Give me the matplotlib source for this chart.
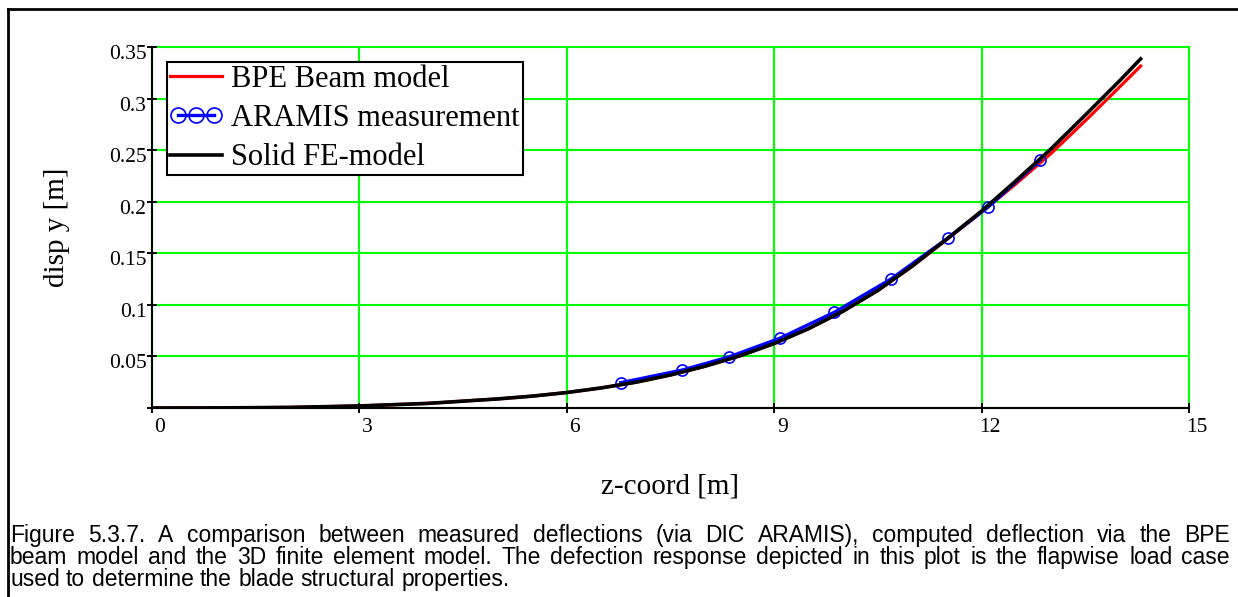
import matplotlib
matplotlib.use('Agg')
import matplotlib.pyplot as plt
from matplotlib.lines import Line2D
from matplotlib.legend_handler import HandlerLine2D
from matplotlib.transforms import ScaledTranslation

# data
z_model = [0, 1, 2, 3, 4, 5, 5.5, 6, 6.5, 7, 7.5, 8, 8.5, 9, 9.5, 10,
           10.5, 11, 11.5, 12, 12.5, 13, 13.5, 14, 14.3]
bpe_beam = [0, 0.0001, 0.0006, 0.0020, 0.0045, 0.0088, 0.0115, 0.0150, 0.0195,
            0.0250, 0.0320, 0.0405, 0.0505, 0.0625, 0.0770, 0.0940, 0.1140,
            0.1375, 0.1635, 0.1900, 0.2175, 0.2465, 0.2785, 0.3115, 0.3315]
solid_fe = [0, 0.0001, 0.0006, 0.0020, 0.0045, 0.0088, 0.0115, 0.0150, 0.0195,
            0.0250, 0.0320, 0.0405, 0.0505, 0.0625, 0.0770, 0.0940, 0.1140,
            0.1378, 0.1640, 0.1910, 0.2205, 0.2510, 0.2840, 0.3175, 0.3385]
z_aramis = [6.78, 7.67, 8.34, 9.08, 9.87, 10.69, 11.52, 12.09, 12.85]
aramis = [0.0245, 0.0368, 0.0494, 0.0676, 0.0928, 0.1251, 0.1651, 0.1946, 0.2405]

x_ticks = [0, 3, 6, 9, 12, 15]
x_tick_labels = ['0', '3', '6', '9', '12', '15']
y_ticks = [0, 0.05, 0.1, 0.15, 0.2, 0.25, 0.3, 0.35]
y_tick_labels = ['', '0.05', '0.1', '0.15', '0.2', '0.25', '0.3', '0.35']

caption_lines = [
    "Figure 5.3.7. A comparison between measured deflections (via DIC ARAMIS), computed deflection via the BPE",
    "beam model and the 3D finite element model. The defection response depicted in this plot is the flapwise load case",
    "used to determine the blade structural properties.",
]

W, H = 1238, 597
plt.rcParams['font.family'] = ['Liberation Serif', 'DejaVu Serif']


def fx(px):
    return px / W


def fy(py):
    return 1 - py / H


fig = plt.figure(figsize=(W / 100, H / 100), dpi=100)
ax = fig.add_axes([fx(152), fy(408), (1189 - 152) / W, (408 - 47) / H])

l_bpe, = ax.plot(z_model, bpe_beam, color='red', lw=2.3, label='BPE Beam model', zorder=3)
l_ar, = ax.plot(z_aramis, aramis, color='blue', lw=2.4, marker='o', ms=8, mfc='none',
                mec='blue', mew=1.2, label='ARAMIS measurement', zorder=4)
l_fe, = ax.plot(z_model, solid_fe, color='black', lw=2.6, label='Solid FE-model', zorder=5)

ax.set_xlim(0, 15)
ax.set_ylim(0, 0.35)
ax.set_xticks(x_ticks)
ax.set_xticklabels(x_tick_labels)
ax.set_yticks(y_ticks)
ax.set_yticklabels(y_tick_labels)
ax.tick_params(direction='inout', length=7, width=1.4, color='black', labelsize=15.5)
ax.tick_params(axis='y', pad=0.5)
ax.tick_params(axis='x', pad=4)

for s in ['top', 'right']:
    ax.spines[s].set_visible(False)
for s in ['left', 'bottom']:
    ax.spines[s].set_linewidth(1.5)
    ax.spines[s].set_zorder(6)

ax.grid(True, color='#00ff00', lw=1.5)
ax.set_axisbelow(True)
for gl in ax.get_xgridlines() + ax.get_ygridlines():
    gl.set_clip_on(False)

# tick labels sit a little off the ticks in the original
for lbl in ax.get_xticklabels():
    lbl.set_transform(lbl.get_transform() + ScaledTranslation(0.08, 0, fig.dpi_scale_trans))
for lbl in ax.get_yticklabels():
    lbl.set_transform(lbl.get_transform() + ScaledTranslation(0, -0.05, fig.dpi_scale_trans))

leg = ax.legend(handles=[l_bpe, l_ar, l_fe], loc='upper left',
                bbox_to_anchor=(fx(167), fy(62)), bbox_transform=fig.transFigure,
                borderaxespad=0, numpoints=3, fontsize=22, handlelength=1.7,
                handletextpad=0.3, markerscale=1.35, labelspacing=0.33,
                borderpad=0.1, fancybox=False, framealpha=1,
                handler_map={l_bpe: HandlerLine2D(marker_pad=0),
                             l_fe: HandlerLine2D(marker_pad=0),
                             l_ar: HandlerLine2D(marker_pad=0.26)})
leg.get_frame().set_edgecolor('black')
leg.get_frame().set_linewidth(1.5)
leg.set_zorder(10)

fig.text(fx(670), fy(493), 'z-coord [m]', ha='center', va='baseline', fontsize=21)
fig.text(fx(57), fy(227), 'disp y [m]', rotation=90, ha='center', va='center', fontsize=21)

# page border
fig.add_artist(Line2D([fx(7.5), fx(7.5)], [0, fy(9)], transform=fig.transFigure,
                      color='black', lw=2))
fig.add_artist(Line2D([fx(7.5), 1], [fy(9), fy(9)], transform=fig.transFigure,
                      color='black', lw=2))

# caption, justified like the original
renderer = fig.canvas.get_renderer()
cap_size = 16.5


def put_line(line, y, x0, x1, justify=True):
    words = line.split()
    texts = [fig.text(0, fy(y), w, fontsize=cap_size, family='Liberation Sans',
                      va='baseline') for w in words]
    widths = [t.get_window_extent(renderer).width for t in texts]
    if justify:
        gap = (x1 - x0 - sum(widths)) / (len(words) - 1)
    else:
        gap = 0.278 * cap_size * 100 / 72
    x = x0
    for t, w in zip(texts, widths):
        t.set_x(fx(x))
        x += w + gap


put_line(caption_lines[0], 542, 10, 1230)
put_line(caption_lines[1], 564, 10, 1230)
put_line(caption_lines[2], 586, 10, 1230, justify=False)

fig.savefig('out.png', dpi=100)
